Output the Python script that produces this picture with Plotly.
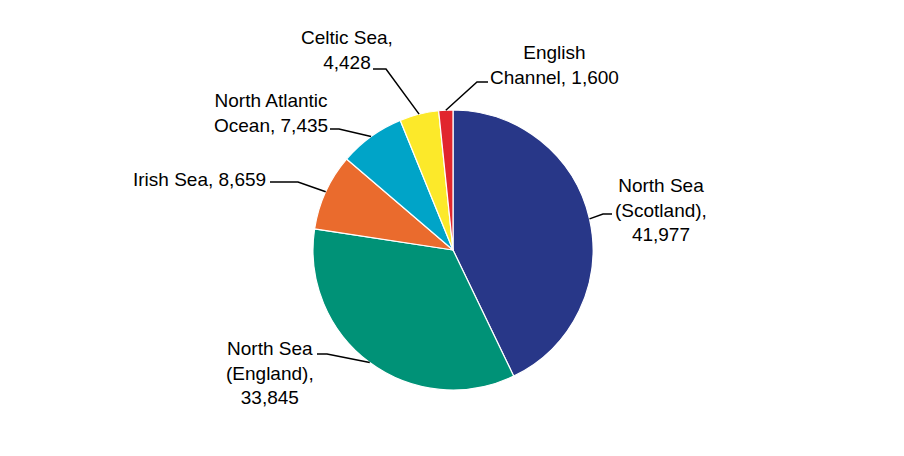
import math
import plotly.graph_objects as go

# ---- data ----
labels = ["North Sea (Scotland)", "North Sea (England)", "Irish Sea",
          "North Atlantic Ocean", "Celtic Sea", "English Channel"]
values = [41977, 33845, 8659, 7435, 4428, 1600]
label_texts = ["North Sea<br>(Scotland),<br>41,977",
               "North Sea<br>(England),<br>33,845",
               "Irish Sea, 8,659",
               "North Atlantic<br>Ocean, 7,435",
               "Celtic Sea,<br>4,428",
               "English<br>Channel, 1,600"]
colors = ["#283788", "#009277", "#EA6B2D", "#00A4C8", "#FCE92A", "#E1252D"]

# ---- layout constants (pixels) ----
W, H = 904, 456
CX, CY, R = 453, 250, 140
# text anchor position (x, y, xanchor)
text_pos = [(661, 210, "center"), (270, 373, "center"), (268, 179, "right"),
            (271, 113, "center"), (347, 50, "center"), (554, 65, "center")]
# leader elbow and end points
elbows = [(603, 214), (327, 354), (298, 182), (339, 129), (386, 69), (477, 82)]
ends = [(612, 214), (317, 354), (270, 182), (330, 129), (373, 69), (488, 82)]


def px(x):
    return x / W


def py(y):
    return 1 - y / H


fig = go.Figure(go.Pie(
    labels=labels, values=values, sort=False, direction="clockwise", rotation=0,
    marker=dict(colors=colors, line=dict(color="white", width=1.2)),
    textinfo="none", hoverinfo="label+value", showlegend=False,
    domain=dict(x=[px(CX - R), px(CX + R)], y=[py(CY + R), py(CY - R)]),
))

total = sum(values)
cum = 0
shapes = []
annotations = []
for i, v in enumerate(values):
    mid = (cum + v / 2) / total * 2 * math.pi
    cum += v
    sx = CX + R * math.sin(mid)
    sy = CY - R * math.cos(mid)
    ex, ey = elbows[i]
    tx, ty = ends[i]
    shapes.append(dict(
        type="path", xref="paper", yref="paper",
        path=f"M {px(sx)},{py(sy)} L {px(ex)},{py(ey)} L {px(tx)},{py(ty)}",
        line=dict(color="black", width=1.5)))
    ax, ay, anc = text_pos[i]
    annotations.append(dict(
        x=px(ax), y=py(ay), xref="paper", yref="paper", text=label_texts[i],
        showarrow=False, xanchor=anc, yanchor="middle", align="center",
        font=dict(family="Liberation Sans, Arial", size=19, color="black")))

fig.update_layout(
    width=W, height=H, margin=dict(l=0, r=0, t=0, b=0),
    paper_bgcolor="white", plot_bgcolor="white",
    shapes=shapes, annotations=annotations,
)

fig.write_html("out.html", config={"displayModeBar": False},
               post_script="document.body.style.margin='0';")
